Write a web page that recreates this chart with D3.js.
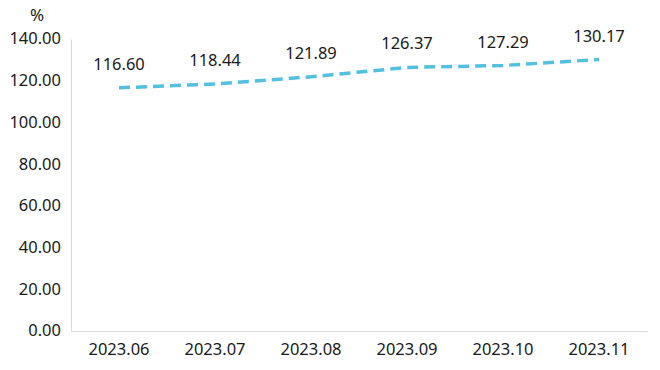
<!DOCTYPE html>
<html>
<head>
<meta charset="utf-8">
<script src="https://cdn.jsdelivr.net/npm/d3@7"></script>
<style>
  body { margin: 0; background: #fff; }
  text { font-family: "Noto Sans", "Open Sans", sans-serif; fill: #1a1a1a; }
</style>
</head>
<body>
<div id="chart-area"></div>
<script>
const months = ["2023.06", "2023.07", "2023.08", "2023.09", "2023.10", "2023.11"];
const values = [116.60, 118.44, 121.89, 126.37, 127.29, 130.17];
const yTicks = [0, 20, 40, 60, 80, 100, 120, 140];

const W = 660, H = 370;
const margin = {left: 71, right: 13, top: 39, bottom: 39};
const width = W - margin.left - margin.right,
  height = H - margin.top - margin.bottom;
const fs = "16.5px";

const svg = d3.select("#chart-area").append("svg")
  .attr("width", W)
  .attr("height", H);

const g = svg.append("g")
  .attr("transform", "translate(" + margin.left + "," + margin.top + ")");

// Scales
const x = d3.scaleBand().domain(months).range([0, width]);
const y = d3.scaleLinear().domain([0, 140]).range([height, 0]);

// Y axis
const yAxis = g.append("g")
  .call(d3.axisLeft(y).tickValues(yTicks).tickFormat(d3.format(".2f")).tickSize(0).tickPadding(10));
yAxis.select(".domain").attr("stroke", "#d9d9d9");
yAxis.selectAll("text").style("font-size", fs).attr("dy", "0.3em");

// X axis
const xAxis = g.append("g")
  .attr("transform", "translate(0," + height + ")")
  .call(d3.axisBottom(x).tickSize(0).tickPadding(12));
xAxis.select(".domain").attr("stroke", "#d9d9d9");
xAxis.selectAll("text").style("font-size", fs);

// unit label
g.append("text")
  .attr("x", -34)
  .attr("y", -18)
  .attr("text-anchor", "middle")
  .style("font-size", "17px")
  .text("%");

const cx = d => x(d) + x.bandwidth() / 2;

const line = d3.line()
  .x((d, i) => cx(months[i]))
  .y(d => y(d));

g.append("path")
  .datum(values)
  .attr("fill", "none")
  .attr("stroke", "#52c0df")
  .attr("stroke-width", 3.5)
  .attr("stroke-dasharray", "11,6")
  .attr("d", line);

g.selectAll(".label")
  .data(values)
  .enter().append("text")
  .attr("class", "label")
  .attr("x", (d, i) => cx(months[i]))
  .attr("y", d => y(d) - 18)
  .attr("text-anchor", "middle")
  .style("font-size", fs)
  .text(d => d.toFixed(2));
</script>
</body>
</html>
